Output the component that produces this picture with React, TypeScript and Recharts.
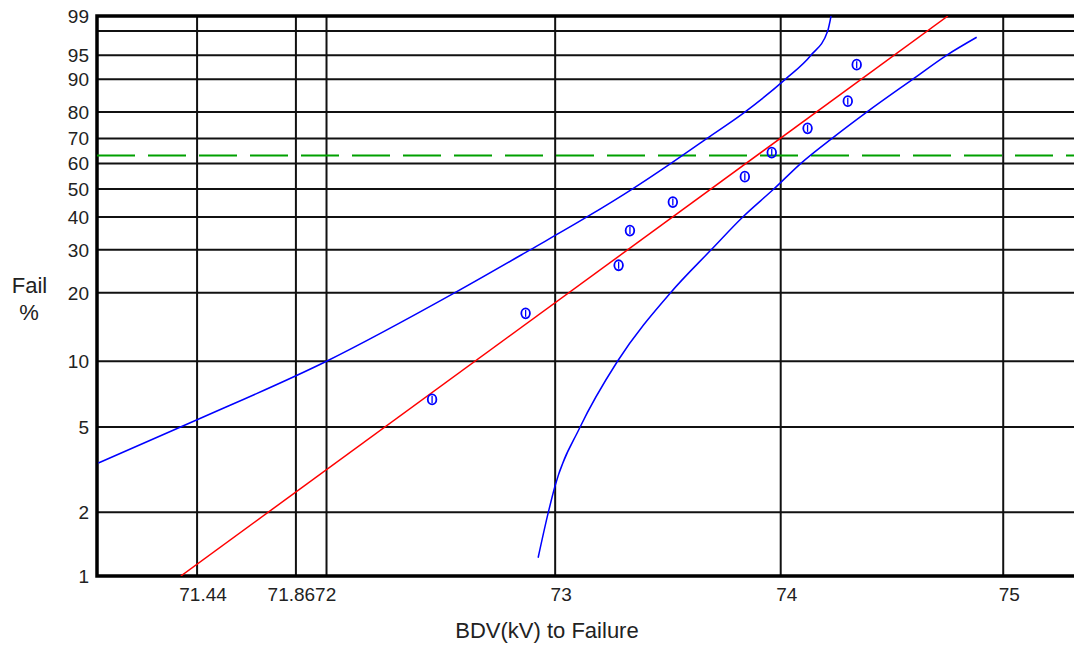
import {
  ComposedChart,
  XAxis,
  YAxis,
  CartesianGrid,
  Line,
  Scatter,
  ReferenceLine,
  ReferenceArea,
} from 'recharts';

// x axis (BDV kV, log scale)
const xTicks = [71.44, 71.8672, 72, 73, 74, 75];
const xTickLabels = ['71.44', '71.8672', '', '73', '74', '75'];
const xDomain = [71.01, 75.33];

// y axis (Weibull probability paper, % failed)
const pctTicks = [1, 2, 5, 10, 20, 30, 40, 50, 60, 70, 80, 90, 95, 98, 99];
const pctTickLabels = ['1', '2', '5', '10', '20', '30', '40', '50', '60', '70', '80', '90', '95', '', '99'];
const etaPct = 63.21;

// observed failures (median ranks)
const failBdv = [72.46, 72.87, 73.28, 73.33, 73.52, 73.84, 73.96, 74.12, 74.3, 74.34];
const failPct = [6.7, 16.3, 26.0, 35.6, 45.2, 54.8, 64.4, 74.0, 83.7, 93.3];

// fitted Weibull line
const fitBdv = [71.37, 74.75];
const fitPct = [1, 99];

// confidence bounds
const upperBdv = [71.016, 71.44, 72.0, 72.56, 72.89, 73.14, 73.34, 73.51, 73.67, 73.84, 74.02, 74.135, 74.21, 74.225];
const upperPct = [3.4, 5.4, 10, 20, 30, 40, 50, 60, 70, 80, 90, 95, 98, 99];
const lowerBdv = [72.925, 72.97, 73.0, 73.11, 73.275, 73.51, 73.69, 73.831, 73.969, 74.089, 74.228, 74.385, 74.591, 74.744, 74.88];
const lowerPct = [1.22, 2, 2.67, 5, 10, 20, 30, 40, 50, 60, 70, 80, 90, 95, 97.4];

const weib = (p: number) => Math.log(-Math.log(1 - p / 100));
const rows = (xs: number[], ps: number[]) => xs.map((x, i) => ({ x, w: weib(ps[i]) }));

const wTicks = pctTicks.map(weib);
const font = '"Liberation Sans", Arial, sans-serif';
const textColor = '#222';

const XTick = (props: any) => {
  const { x, y, payload } = props;
  const i = xTicks.findIndex((v) => Math.abs(v - payload.value) < 1e-6);
  return (
    <text x={x + 6} y={y} dy="0.71em" textAnchor="middle" fontSize={19} fontFamily={font} fill={textColor}>
      {i >= 0 ? xTickLabels[i] : ''}
    </text>
  );
};

const YTick = (props: any) => {
  const { x, y, payload } = props;
  const i = wTicks.findIndex((v) => Math.abs(v - payload.value) < 1e-6);
  return (
    <text x={x} y={y} dy="0.36em" textAnchor="end" fontSize={19} fontFamily={font} fill={textColor}>
      {i >= 0 ? pctTickLabels[i] : ''}
    </text>
  );
};

const Marker = (props: any) => {
  const { cx, cy } = props;
  return (
    <g stroke="#0000ff" fill="none">
      <ellipse cx={cx} cy={cy} rx={4.3} ry={5} strokeWidth={1.8} />
      <line x1={cx} y1={cy - 3.5} x2={cx} y2={cy + 3.5} strokeWidth={1.3} />
    </g>
  );
};

export default function App() {
  const points = rows(failBdv, failPct);
  const fit = rows(fitBdv, fitPct);
  const upper = rows(upperBdv, upperPct);
  const lower = rows(lowerBdv, lowerPct);
  const yDomain = [weib(pctTicks[0]), weib(pctTicks[pctTicks.length - 1])];

  return (
    <div style={{ width: 1074, height: 649, marginTop: -8, fontFamily: font, background: '#fff' }}>
      <ComposedChart width={1074} height={649} margin={{ top: 16, right: 6, bottom: 0, left: 0 }}>
        <CartesianGrid stroke="#111" strokeWidth={2} />
        <XAxis
          type="number"
          dataKey="x"
          scale="log"
          domain={xDomain}
          allowDataOverflow
          ticks={xTicks}
          interval={0}
          axisLine={false}
          tickLine={false}
          tickSize={0}
          tickMargin={12}
          height={73}
          tick={<XTick />}
          label={{
            content: ({ viewBox }: any) => (
              <text
                x={viewBox.x + 450}
                y={viewBox.y + 62}
                textAnchor="middle"
                fontSize={22}
                fontFamily={font}
                fill={textColor}
              >
                BDV(kV) to Failure
              </text>
            ),
          }}
        />
        <YAxis
          type="number"
          dataKey="w"
          domain={yDomain}
          allowDataOverflow
          ticks={wTicks}
          interval={0}
          axisLine={false}
          tickLine={false}
          tickSize={0}
          tickMargin={8}
          width={89}
          tick={<YTick />}
          label={{
            content: ({ viewBox }: any) => {
              const cy = viewBox.y + viewBox.height / 2;
              return (
                <g fontSize={22} fontFamily={font} fill={textColor} textAnchor="middle">
                  <text x={viewBox.x + 21.5} y={cy - 3}>Fail</text>
                  <text x={viewBox.x + 21} y={cy + 24}>%</text>
                </g>
              );
            },
          }}
        />
        <ReferenceLine y={weib(etaPct)} stroke="#00a000" strokeWidth={2} strokeDasharray="38 13" />
        <Line
          data={upper}
          dataKey="w"
          type="monotone"
          stroke="#0000ff"
          strokeWidth={1.5}
          dot={false}
          isAnimationActive={false}
        />
        <Line
          data={lower}
          dataKey="w"
          type="monotone"
          stroke="#0000ff"
          strokeWidth={1.5}
          dot={false}
          isAnimationActive={false}
        />
        <Line
          data={fit}
          dataKey="w"
          type="linear"
          stroke="#ff0000"
          strokeWidth={1.5}
          dot={false}
          isAnimationActive={false}
        />
        <Scatter data={points} dataKey="w" shape={<Marker />} isAnimationActive={false} />
        <ReferenceArea
          x1={xDomain[0]}
          x2={xDomain[1]}
          y1={yDomain[0]}
          y2={yDomain[1]}
          fill="none"
          stroke="#000"
          strokeWidth={3.5}
          ifOverflow="visible"
        />
      </ComposedChart>
    </div>
  );
}
